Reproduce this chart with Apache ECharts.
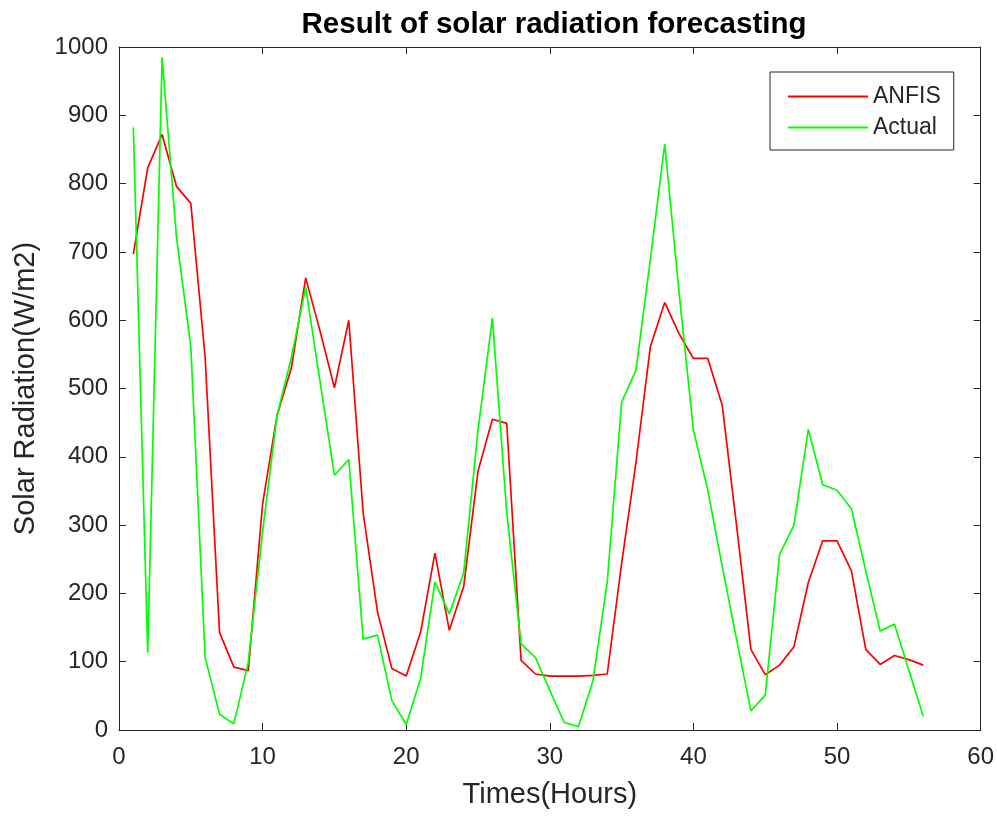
<!DOCTYPE html>
<html>
<head>
<meta charset="utf-8">
<script src="https://cdn.jsdelivr.net/npm/echarts@6/dist/echarts.min.js"></script>
<style>
  html, body { margin: 0; padding: 0; background: #fff; }
  #chart { width: 997px; height: 816px; }
</style>
</head>
<body>
<div id="chart"></div>
<script>
// hours 1..56
const hours = [];
for (let h = 1; h <= 56; h++) hours.push(h);

const anfis = [
  697, 823, 872, 796, 771, 545, 143, 92, 87, 331,
  460, 530, 662, 584, 501, 600, 318, 173, 90, 79,
  143, 259, 146, 210, 379, 455, 449, 102, 82, 79,
  79, 79, 80, 82, 244, 392, 561, 626, 580, 544,
  544, 476, 300, 118, 81, 95, 122, 216, 277, 277,
  233, 118, 96, 109, 103, 95
];

const actual = [
  882, 113, 985, 722, 561, 106, 23, 9, 99, 290,
  460, 545, 648, 510, 373, 396, 133, 139, 43, 8,
  75, 217, 170, 230, 439, 603, 318, 126, 106, 58,
  11, 5, 72, 217, 480, 527, 689, 858, 640, 439,
  351, 240, 133, 28, 51, 257, 300, 440, 359, 351,
  324, 233, 145, 155, 88, 20
];

const textColor = '#262626';
const font = 'Liberation Sans, Arial, sans-serif';

function pairs(vals) {
  return vals.map((v, i) => [hours[i], v]);
}

const chart = echarts.init(document.getElementById('chart'));

const axisCommon = {
  axisLine: { show: true, onZero: false, lineStyle: { color: textColor, width: 1 } },
  axisTick: { show: true, inside: true, length: 7, lineStyle: { color: textColor } },
  splitLine: { show: false }
};

chart.setOption({
  animation: false,
  backgroundColor: '#fff',
  title: {
    text: 'Result of solar radiation forecasting',
    left: 549,
    textAlign: 'center',
    top: 5,
    textStyle: { fontFamily: font, fontSize: 29.5, fontWeight: 'bold', color: '#000' }
  },
  legend: {
    orient: 'vertical',
    left: 770,
    top: 72,
    padding: [13, 13, 11, 18],
    itemGap: 8,
    itemWidth: 80,
    itemHeight: 2,
    icon: 'rect',
    borderColor: textColor,
    borderWidth: 1,
    backgroundColor: '#fff',
    textStyle: { fontFamily: font, fontSize: 23, color: textColor },
    data: ['ANFIS', 'Actual']
  },
  grid: { left: 119, right: 16, top: 47, bottom: 86 },
  xAxis: [
    Object.assign({}, axisCommon, {
      type: 'value', min: 0, max: 60, interval: 10,
      name: 'Times(Hours)', nameLocation: 'middle', nameGap: 50,
      nameTextStyle: { fontFamily: font, fontSize: 29, color: textColor },
      axisLabel: { fontFamily: font, fontSize: 24, color: textColor, margin: 15 }
    }),
    Object.assign({}, axisCommon, {
      type: 'value', min: 0, max: 60, interval: 10, position: 'top',
      axisLabel: { show: false }
    })
  ],
  yAxis: [
    Object.assign({}, axisCommon, {
      type: 'value', min: 0, max: 1000, interval: 100,
      name: 'Solar Radiation(W/m2)', nameLocation: 'middle', nameGap: 79,
      nameTextStyle: { fontFamily: font, fontSize: 29, color: textColor },
      axisLabel: { fontFamily: font, fontSize: 24, color: textColor, margin: 11,
        formatter: v => String(v) }
    }),
    Object.assign({}, axisCommon, {
      type: 'value', min: 0, max: 1000, interval: 100, position: 'right',
      axisLabel: { show: false }
    })
  ],
  series: [
    {
      name: 'ANFIS', type: 'line', data: pairs(anfis),
      showSymbol: false, symbol: 'none',
      lineStyle: { color: '#ff0000', width: 1.7 },
      itemStyle: { color: '#ff0000' }
    },
    {
      name: 'Actual', type: 'line', data: pairs(actual),
      showSymbol: false, symbol: 'none',
      lineStyle: { color: '#00ff00', width: 1.7 },
      itemStyle: { color: '#00ff00' }
    }
  ]
});
</script>
</body>
</html>
